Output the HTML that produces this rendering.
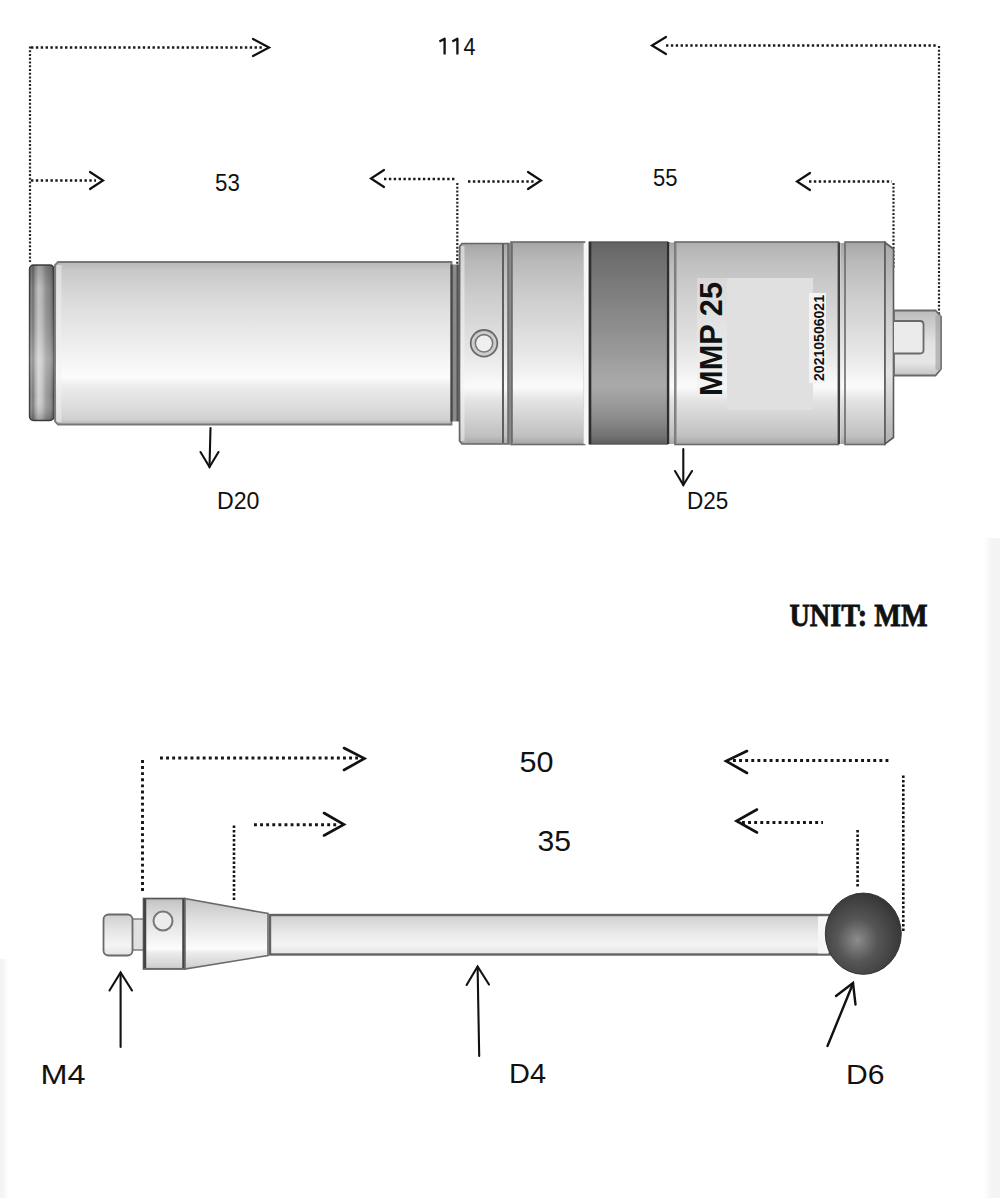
<!DOCTYPE html>
<html><head><meta charset="utf-8"><style>
html,body{margin:0;padding:0;background:#fff;width:1000px;height:1198px;overflow:hidden}
svg{position:absolute;left:0;top:0;display:block}
text{font-family:"Liberation Sans",sans-serif;fill:#111}
</style></head><body>
<svg width="1000" height="1198" viewBox="0 0 1000 1198">
<defs>
<linearGradient id="gL" x1="0" y1="0" x2="0" y2="1">
<stop offset="0" stop-color="#a4a4a4"/><stop offset="0.03" stop-color="#adadad"/><stop offset="0.1" stop-color="#bababa"/><stop offset="0.25" stop-color="#cbcbcb"/><stop offset="0.4" stop-color="#d9d9d9"/><stop offset="0.55" stop-color="#e7e7e7"/><stop offset="0.65" stop-color="#f3f3f3"/><stop offset="0.715" stop-color="#fbfbfb"/><stop offset="0.78" stop-color="#e4e4e4"/><stop offset="0.88" stop-color="#d0d0d0"/><stop offset="0.96" stop-color="#c0c0c0"/><stop offset="1" stop-color="#a4a4a4"/>
</linearGradient>
<linearGradient id="gT" x1="0" y1="0" x2="0" y2="1">
<stop offset="0" stop-color="#b8b8b8"/><stop offset="0.05" stop-color="#c8c8c8"/><stop offset="0.25" stop-color="#dcdcdc"/><stop offset="0.45" stop-color="#eaeaea"/><stop offset="0.62" stop-color="#f6f6f6"/><stop offset="0.71" stop-color="#fcfcfc"/><stop offset="0.77" stop-color="#ebebeb"/><stop offset="0.9" stop-color="#dbdbdb"/><stop offset="0.97" stop-color="#d0d0d0"/><stop offset="1" stop-color="#b4b4b4"/>
</linearGradient>
<linearGradient id="gD" x1="0" y1="0" x2="0" y2="1">
<stop offset="0" stop-color="#626262"/><stop offset="0.03" stop-color="#686868"/><stop offset="0.1" stop-color="#707070"/><stop offset="0.25" stop-color="#7e7e7e"/><stop offset="0.4" stop-color="#8c8c8c"/><stop offset="0.55" stop-color="#9a9a9a"/><stop offset="0.65" stop-color="#a5a5a5"/><stop offset="0.71" stop-color="#aaaaaa"/><stop offset="0.78" stop-color="#9e9e9e"/><stop offset="0.88" stop-color="#8a8a8a"/><stop offset="0.96" stop-color="#737373"/><stop offset="1" stop-color="#5e5e5e"/>
</linearGradient>
<linearGradient id="gRing" x1="0" y1="0" x2="1" y2="0">
<stop offset="0" stop-color="#505050"/><stop offset="0.06" stop-color="#9a9a9a"/><stop offset="0.14" stop-color="#787878"/><stop offset="0.24" stop-color="#acacac"/><stop offset="0.36" stop-color="#d2d2d2"/><stop offset="0.5" stop-color="#c6c6c6"/><stop offset="0.68" stop-color="#9c9c9c"/><stop offset="0.85" stop-color="#8c8c8c"/><stop offset="0.95" stop-color="#6a6a6a"/><stop offset="1" stop-color="#4a4a4a"/>
</linearGradient>
<linearGradient id="gS" x1="0" y1="0" x2="0" y2="1">
<stop offset="0" stop-color="#d0d0d0"/><stop offset="0.4" stop-color="#e6e6e6"/><stop offset="0.75" stop-color="#f4f4f4"/><stop offset="1" stop-color="#e4e4e4"/>
</linearGradient>
<radialGradient id="gBall" cx="0.42" cy="0.58" r="0.6">
<stop offset="0" stop-color="#8c8c8c"/><stop offset="0.45" stop-color="#555"/><stop offset="1" stop-color="#363636"/>
</radialGradient>
<linearGradient id="gRingV" x1="0" y1="0" x2="0" y2="1">
<stop offset="0" stop-color="#000" stop-opacity="0.25"/><stop offset="0.15" stop-color="#000" stop-opacity="0.08"/><stop offset="0.6" stop-color="#fff" stop-opacity="0.2"/><stop offset="0.85" stop-color="#fff" stop-opacity="0"/><stop offset="1" stop-color="#000" stop-opacity="0.25"/>
</linearGradient>
<linearGradient id="gNeck" x1="0" y1="0" x2="1" y2="0">
<stop offset="0" stop-color="#3c3c3c"/><stop offset="0.2" stop-color="#555"/><stop offset="0.3" stop-color="#888"/><stop offset="0.55" stop-color="#8a8a8a"/><stop offset="0.72" stop-color="#525252"/><stop offset="1" stop-color="#6e6e6e"/>
</linearGradient>
<linearGradient id="gL2" x1="0" y1="0" x2="0" y2="1">
<stop offset="0" stop-color="#a8a8a8"/><stop offset="0.3" stop-color="#c8c8c8"/><stop offset="0.65" stop-color="#e4e4e4"/><stop offset="1" stop-color="#b0b0b0"/>
</linearGradient>
<linearGradient id="gStub" x1="0" y1="0" x2="0" y2="1">
<stop offset="0" stop-color="#bcbcbc"/><stop offset="0.5" stop-color="#e2e2e2"/><stop offset="0.8" stop-color="#e6e6e6"/><stop offset="1" stop-color="#c4c4c4"/>
</linearGradient>
<linearGradient id="gEdgeR" x1="0" y1="0" x2="1" y2="0">
<stop offset="0" stop-color="#f4f4f4" stop-opacity="0"/><stop offset="0.5" stop-color="#f4f4f4" stop-opacity="1"/><stop offset="1" stop-color="#f4f4f4"/>
</linearGradient>
<linearGradient id="gEdgeL" x1="0" y1="0" x2="1" y2="0">
<stop offset="0" stop-color="#f3f3f3"/><stop offset="0.5" stop-color="#f6f6f6"/><stop offset="1" stop-color="#f6f6f6" stop-opacity="0"/>
</linearGradient>
<linearGradient id="gL4" x1="0" y1="0" x2="0" y2="1">
<stop offset="0" stop-color="#acacac"/><stop offset="0.03" stop-color="#b6b6b6"/><stop offset="0.1" stop-color="#c0c0c0"/><stop offset="0.25" stop-color="#cecece"/><stop offset="0.4" stop-color="#dadada"/><stop offset="0.55" stop-color="#e7e7e7"/><stop offset="0.65" stop-color="#f3f3f3"/><stop offset="0.715" stop-color="#fbfbfb"/><stop offset="0.78" stop-color="#e4e4e4"/><stop offset="0.88" stop-color="#d0d0d0"/><stop offset="0.96" stop-color="#c0c0c0"/><stop offset="1" stop-color="#a4a4a4"/>
</linearGradient>
</defs>
<rect x="984" y="538" width="16" height="660" fill="url(#gEdgeR)"/>
<rect x="0" y="959" width="8" height="239" fill="url(#gEdgeL)"/>

<!-- ============ TOP DIMENSIONS ============ -->
<g fill="none" stroke="#1a1a1a" stroke-width="2.5" stroke-dasharray="2.4 2.46">
<path d="M31 47.5 H262"/>
<path d="M666 45.5 H938"/>
<path d="M31 180.5 H96"/>
<path d="M384 179 H456"/>
<path d="M468 181.5 H534"/>
<path d="M809 181.5 H892"/>
</g>
<g fill="none" stroke="#262626" stroke-width="2.2" stroke-dasharray="2 1.75">
<path d="M30 46.5 V262"/>
<path d="M939 46 V314"/>
<path d="M457.3 183 V268"/>
<path d="M893.5 183 V268"/>
</g>
<g fill="none" stroke="#111" stroke-width="2.2" stroke-linecap="round" stroke-linejoin="miter">
<path d="M253 39 L269 47.5 L253 56"/>
<path d="M666 37 L652 45.5 L666 54"/>
<path d="M90 172 L103 180.5 L90 189"/>
<path d="M384 170 L371 178.5 L384 187"/>
<path d="M528 172 L541 180.5 L528 189"/>
<path d="M810 173 L797 181.5 L810 190"/>
</g>
<text x="463.6" y="55" font-size="23.5" textLength="12" lengthAdjust="spacingAndGlyphs">4</text>
<path d="M439.4 41.6 L444.6 38.8 V54.4 M452.3 41.6 L457.4 38.8 V54.4" fill="none" stroke="#111" stroke-width="2.3" stroke-linejoin="round"/>
<text x="215" y="191" font-size="24.5" textLength="24.8" lengthAdjust="spacingAndGlyphs">53</text>
<text x="653" y="185.5" font-size="24.5" textLength="24.5" lengthAdjust="spacingAndGlyphs">55</text>

<!-- ============ TOP BODY ============ -->
<!-- left ring -->
<rect x="29.5" y="265" width="24.5" height="155.5" rx="4" fill="url(#gRing)" stroke="#444" stroke-width="1.4"/>
<rect x="29.5" y="265" width="24.5" height="155.5" rx="4" fill="url(#gRingV)"/>
<!-- main D20 tube -->
<path d="M58 262 H451.5 V424.5 H58 L55 421.5 V265 Z" fill="url(#gT)" stroke="#777" stroke-width="1.8"/>
<rect x="56.5" y="265" width="5" height="157" fill="#f2f2f2" opacity="0.5"/>
<!-- neck -->
<rect x="450.5" y="264.5" width="9.5" height="157" fill="url(#gNeck)"/>
<!-- collar -->
<path d="M462 243.5 H509 V444 H462 L459.5 441 V246.5 Z" fill="url(#gL)" stroke="#666" stroke-width="1.6"/>
<rect x="461" y="246" width="3.5" height="195" fill="#f2f2f2" opacity="0.55"/>
<line x1="503" y1="244" x2="503" y2="443" stroke="#5e5e5e" stroke-width="2"/>
<line x1="508" y1="244" x2="508" y2="443" stroke="#6e6e6e" stroke-width="1.6"/>
<circle cx="484" cy="343.3" r="13.3" fill="#cdcdcd" stroke="#6a6a6a" stroke-width="1.8"/>
<circle cx="484" cy="343.3" r="8.7" fill="#efefef" stroke="#7a7a7a" stroke-width="1.6"/>
<!-- section 2 -->
<rect x="511" y="242" width="73.5" height="202.5" fill="url(#gL)" stroke="#6a6a6a" stroke-width="1.6"/>
<line x1="512" y1="243" x2="512" y2="443" stroke="#6a6a6a" stroke-width="1.6"/>
<rect x="583.5" y="243" width="4" height="201" fill="#f6f6f6"/>
<!-- dark band -->
<rect x="589.5" y="242" width="78" height="202" fill="url(#gD)" stroke="#555" stroke-width="1.4"/>
<line x1="590" y1="242" x2="590" y2="444" stroke="#2e2e2e" stroke-width="2.6"/>
<line x1="668.3" y1="242" x2="668.3" y2="444" stroke="#2e2e2e" stroke-width="2.6"/>
<!-- rim -->
<rect x="669.5" y="242.5" width="5.5" height="201.5" fill="url(#gL)"/>
<!-- section 4 label -->
<rect x="675" y="242" width="163.5" height="202.5" fill="url(#gL4)" stroke="#6a6a6a" stroke-width="1.6"/>
<line x1="676" y1="243" x2="676" y2="443" stroke="#888" stroke-width="1.2"/>
<rect x="727" y="278" width="86" height="132" fill="#e0e0e0"/>
<rect x="697" y="278" width="30" height="119" fill="#eeeeee" opacity="0.45"/>
<rect x="809" y="293" width="17" height="90" fill="#f4f4f4"/>
<text transform="translate(722.3 396) rotate(-90)" font-size="31" font-weight="bold" fill="#111" textLength="114" lengthAdjust="spacingAndGlyphs">MMP 25</text>
<text transform="translate(824 381) rotate(-90)" font-size="14.5" font-weight="bold" fill="#111" textLength="86" lengthAdjust="spacingAndGlyphs">20210506021</text>
<line x1="839" y1="242.5" x2="839" y2="444" stroke="#3e3e3e" stroke-width="2.4"/>
<rect x="840.5" y="243" width="4.5" height="201" fill="url(#gL)"/>
<!-- section 5 -->
<rect x="845" y="242" width="40" height="202.5" fill="url(#gL)" stroke="#6a6a6a" stroke-width="1.6"/>
<path d="M885 242.5 L893.5 249 L893.5 437.5 L885 444 Z" fill="url(#gL2)" stroke="#5a5a5a" stroke-width="1.6"/>
<!-- stub -->
<path d="M894 310.5 H935.5 L941 316.5 V369 L935.5 375.5 H894 Z" fill="url(#gStub)" stroke="#6a6a6a" stroke-width="1.8"/>
<rect x="935.5" y="315" width="5" height="55" fill="#a5a5a5" opacity="0.7"/>
<path d="M894 321 H920 Q923.5 321 923.5 324.5 V350 Q923.5 353.5 920 353.5 H894" fill="#ebebeb" stroke="#6a6a6a" stroke-width="1.8"/>

<!-- D20 / D25 arrows -->
<g fill="none" stroke="#111" stroke-width="2.1" stroke-linecap="round">
<path d="M210.5 428 L209.5 467"/>
<path d="M200.5 452 L209.5 467 L218.5 452"/>
<path d="M683.3 449 L683.3 485"/>
<path d="M675 471 L683.3 485 L692 471"/>
</g>
<text x="217" y="508.5" font-size="23.5" textLength="42.5" lengthAdjust="spacingAndGlyphs">D20</text>
<text x="687" y="508.5" font-size="23" textLength="41.3" lengthAdjust="spacingAndGlyphs">D25</text>

<!-- UNIT -->
<text x="789.5" y="625.5" font-size="31.5" font-weight="bold" textLength="138" lengthAdjust="spacingAndGlyphs" stroke="#111" stroke-width="0.8" style="font-family:'Liberation Serif',serif">UNIT: MM</text>

<!-- ============ BOTTOM DIMENSIONS ============ -->
<g fill="none" stroke="#151515" stroke-width="2.9" stroke-dasharray="2.9 3.2">
<path d="M160 758 H358"/>
<path d="M142.5 760 V894"/>
<path d="M254 824.7 H338"/>
<path d="M733 760.5 H891"/>
<path d="M742 822.5 H823"/>
</g>
<g fill="none" stroke="#151515" stroke-width="2.6" stroke-dasharray="2.4 2.1">
<path d="M234 825.5 V900"/>
<path d="M857.6 830 V887"/>
<path d="M903.3 775.5 V932"/>
</g>
<g fill="none" stroke="#111" stroke-width="2.6" stroke-linecap="round">
<path d="M344 748 L364.5 758.5 L344 770"/>
<path d="M324 813 L344 824.5 L324 835.5"/>
<path d="M747 751 L726 761 L747 773"/>
<path d="M757 809.5 L736.5 821 L757 832.5"/>
</g>
<text x="519.5" y="771.5" font-size="30" textLength="34" lengthAdjust="spacingAndGlyphs">50</text>
<text x="537.5" y="850.5" font-size="30" textLength="33.5" lengthAdjust="spacingAndGlyphs">35</text>

<!-- ============ BOTTOM BODY (stylus) ============ -->
<!-- M4 thread -->
<rect x="131" y="919" width="13" height="31" fill="#e0e0e0" stroke="#777" stroke-width="1.4"/>
<rect x="103.5" y="914.5" width="29" height="41" rx="5" fill="url(#gS)" stroke="#6a6a6a" stroke-width="1.8"/>
<!-- collar -->
<rect x="143.5" y="898.5" width="41" height="70.5" fill="url(#gT)" stroke="#555" stroke-width="1.6"/>
<line x1="145" y1="899" x2="145" y2="968" stroke="#444" stroke-width="2.5"/>
<line x1="183.5" y1="899" x2="183.5" y2="968" stroke="#444" stroke-width="2.5"/>
<circle cx="163" cy="921" r="9.5" fill="#ececec" stroke="#777" stroke-width="2"/>
<!-- cone -->
<path d="M185 898.5 L268 913.5 L268 955.5 L185 969 Z" fill="url(#gT)" stroke="#6a6a6a" stroke-width="1.6"/>
<!-- shaft -->
<rect x="270" y="915" width="560" height="39.5" fill="url(#gS)" stroke="#636363" stroke-width="2.4"/>
<rect x="818" y="916.5" width="10" height="37" fill="#f6f6f6"/>
<!-- ball -->
<ellipse cx="863.3" cy="933.7" rx="38" ry="40.6" fill="url(#gBall)" stroke="#333" stroke-width="1"/>

<!-- bottom arrows -->
<g fill="none" stroke="#111" stroke-width="2.1" stroke-linecap="round">
<path d="M120.6 973 V1047"/>
<path d="M109.5 990.5 L120.6 972.5 L132 990.5"/>
<path d="M477.6 967 L479.2 1056"/>
<path d="M466.6 985 L477.6 966.5 L489 984.5"/>
<path d="M853 983.5 L827.5 1046" stroke-width="2.4"/>
<path d="M836 996 L853 983 L855.5 1004.5" stroke-width="2.4"/>
</g>
<text x="40.5" y="1084" font-size="28.5" textLength="45" lengthAdjust="spacingAndGlyphs">M4</text>
<text x="509" y="1083" font-size="28" textLength="37" lengthAdjust="spacingAndGlyphs">D4</text>
<text x="846" y="1083.5" font-size="28" textLength="38.5" lengthAdjust="spacingAndGlyphs">D6</text>
</svg>
</body></html>
